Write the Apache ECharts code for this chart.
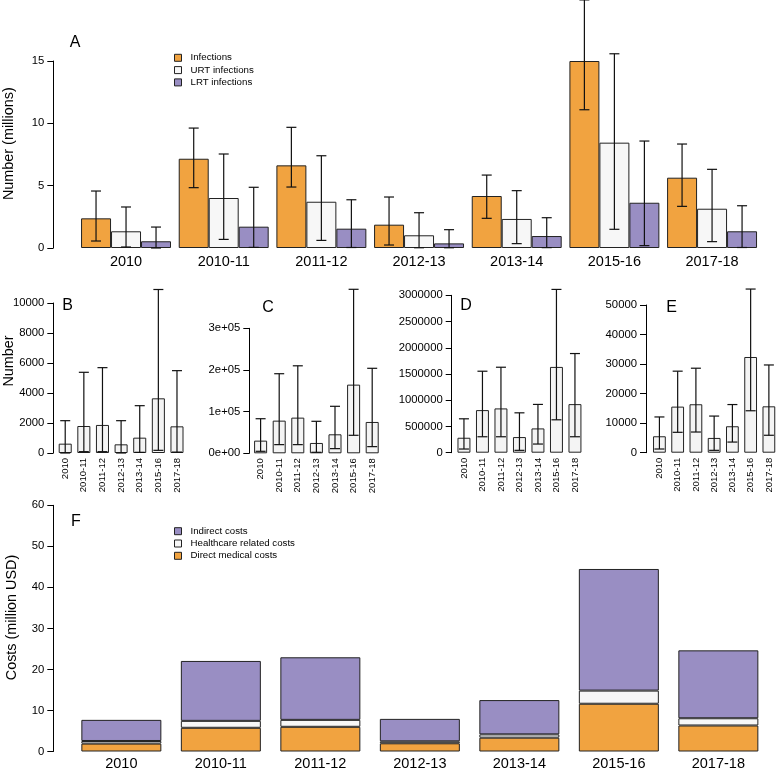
<!DOCTYPE html>
<html><head><meta charset="utf-8">
<script src="https://cdn.jsdelivr.net/npm/echarts@6/dist/echarts.min.js"></script>
<style>html,body{margin:0;padding:0;background:#fff}#c{width:778px;height:771px}</style>
</head><body><div id="c"></div>
<script>
// ---------- data ----------
const seasons = ['2010','2010-11','2011-12','2012-13','2013-14','2015-16','2017-18'];
// Panel A (millions)
const infMean = [2.38, 7.16, 6.63, 1.87, 4.17, 15.0, 5.64];
const infLow  = [0.56, 4.84, 4.89, 0.24, 2.38, 11.09, 3.34];
const infHigh = [4.57, 9.62, 9.68, 4.09, 5.85, 19.9, 8.34];
const urtMean = [1.34, 4.01, 3.71, 1.02, 2.33, 8.45, 3.15];
const urtLow  = [0.08, 0.69, 0.61, 0.02, 0.35, 1.50, 0.51];
const urtHigh = [3.29, 7.54, 7.40, 2.83, 4.60, 15.58, 6.31];
const lrtMean = [0.54, 1.71, 1.55, 0.37, 0.96, 3.63, 1.34];
const lrtLow  = [0.0, 0.05, 0.04, 0.02, 0.03, 0.19, 0.04];
const lrtHigh = [1.68, 4.87, 3.87, 1.47, 2.43, 8.58, 3.39];
// Panel B
const bMean = [622, 1800, 1870, 578, 1022, 3645, 1778];
const bLow  = [0, 90, 90, 0, 45, 178, 60];
const bHigh = [2155, 5380, 5690, 2155, 3155, 10900, 5490];
// Panel C
const cMean = [30400, 78400, 85600, 24800, 45600, 164800, 75200];
const cLow  = [4800, 20800, 20800, 2400, 11200, 43200, 16000];
const cHigh = [83000, 191000, 210000, 76800, 112800, 393600, 204000];
// Panel D
const dMean = [285000, 812000, 844000, 298000, 463000, 1635000, 926000];
const dLow  = [70000, 304000, 304000, 45000, 165000, 627000, 304000];
const dHigh = [646000, 1553000, 1629000, 760000, 920000, 3112000, 1890000];
// Panel E
const eMean = [5560, 15600, 16400, 5000, 8950, 32400, 15700];
const eLow  = [1250, 6900, 7000, 800, 3600, 14200, 5900];
const eHigh = [12100, 27600, 28600, 12400, 16300, 55400, 29700];
// Panel F (million USD)
const directCosts     = [1.93, 5.78, 6.02, 2.00, 3.37, 11.64, 6.34];
const healthcareCosts = [0.63, 1.69, 1.69, 0.48, 0.80, 3.20, 1.76];
const indirectCosts   = [5.15, 14.60, 15.25, 5.47, 8.36, 29.64, 16.55];

// ---------- style ----------
const FONT = 'Liberation Sans, Arial, Helvetica, sans-serif';
const INK = '#222';
const ORANGE = '#f1a340', WHITE = '#f7f7f7', PURPLE = '#998ec3', GREY = '#f4f4f4';

function plain(v) { return String(v); }
function yAx(gi, min, max, interval, offset, fmt) {
  return {type:'value', gridIndex:gi, min, max, interval, offset,
    axisLine:{show:true, lineStyle:{color:'#000', width:1}},
    axisTick:{show:true, length:6, lineStyle:{color:'#000', width:1}},
    axisLabel:{color:'#000', fontSize:11.3, fontFamily:FONT, margin:9, formatter: fmt || plain},
    splitLine:{show:false}};
}
function xAx(gi, fontSize, margin, rotate) {
  return {type:'category', gridIndex:gi, data:seasons,
    axisLine:{show:false}, axisTick:{show:false},
    axisLabel:{color:'#000', fontSize, fontFamily:FONT, margin, rotate, interval:0}};
}
function errSeries(gi, low, high, n, pos, frac, cap) {
  return {type:'custom', xAxisIndex:gi, yAxisIndex:gi, silent:true, z:5, clip:false,
    data: low.map((l,i)=>[i, l, high[i]]),
    encode:{x:0, y:[1,2]},
    renderItem(params, api) {
      const band = api.size([1,0])[0];
      const w = band*frac/n;
      const t = api.coord([api.value(0), api.value(2)]);
      const b = api.coord([api.value(0), api.value(1)]);
      const x = t[0] + (pos - (n-1)/2)*w;
      const h = cap/2;
      const st = {stroke:'#111', lineWidth:1.2};
      return {type:'group', children:[
        {type:'line', shape:{x1:x, y1:t[1], x2:x, y2:b[1]}, style:st},
        {type:'line', shape:{x1:x-h, y1:t[1], x2:x+h, y2:t[1]}, style:st},
        {type:'line', shape:{x1:x-h, y1:b[1], x2:x+h, y2:b[1]}, style:st}
      ]};
    }};
}
function barS(gi, name, data, color, width, extra) {
  return Object.assign({type:'bar', name, xAxisIndex:gi, yAxisIndex:gi, data,
    barWidth:width, barGap:'0%', silent:true,
    itemStyle:{color, borderColor:INK, borderWidth:1}}, extra||{});
}
function sci(v) {
  if (v === 0) return '0e+00';
  return v.toExponential().replace(/e\+(\d)$/, 'e+0$1');
}
function txt(x, y, text, size, rot) {
  return {type:'text', x, y, rotation: rot||0, silent:true,
    style:{text, fill:'#000', font: size+'px '+FONT, textAlign:'center', textVerticalAlign:'middle'}};
}
const legBase = {orient:'vertical', left:174, padding:0, itemWidth:7, itemHeight:7, itemGap:2.3,
  icon:'rect', selectedMode:false, itemStyle:{borderColor:INK, borderWidth:1},
  textStyle:{fontSize:9.7, fontFamily:FONT, color:'#000', padding:[0,0,0,4]}};

const chart = echarts.init(document.getElementById('c'), null, {renderer:'canvas'});
chart.setOption({
  backgroundColor:'#fff',
  animation:false,
  grid:[
    {left:77.2, width:683.7, top:61, height:187},   // A
    {left:55.9, width:130.4, top:303, height:150},  // B
    {left:251.3, width:130.2, top:328.3, height:125}, // C
    {left:454.7, width:129.5, top:295.3, height:157.4}, // D
    {left:650.3, width:130.9, top:305, height:147.7}, // E
    {left:71.6, width:696.5, top:505.3, height:249}  // F
  ],
  xAxis:[
    xAx(0, 14.5, 6, 0),
    xAx(1, 9.5, 5, 90), xAx(2, 9.5, 5, 90), xAx(3, 9.5, 5, 90), xAx(4, 9.5, 5, 90),
    xAx(5, 14.5, 4.5, 0)
  ],
  yAxis:[
    yAx(0, 0, 15, 5, 23.9),
    yAx(1, 0, 10000, 2000, 2.6),
    yAx(2, 0, 300000, 100000, 2.0, sci),
    yAx(3, 0, 3000000, 500000, 3.0),
    yAx(4, 0, 50000, 10000, 4.3),
    yAx(5, 0, 60, 10, 18.3)
  ],
  legend:[
    Object.assign({}, legBase, {top:52.8, data:['Infections','URT infections','LRT infections']}),
    Object.assign({}, legBase, {top:526.2, data:['Indirect costs','Healthcare related costs','Direct medical costs']})
  ],
  series:[
    barS(0, 'Infections', infMean, ORANGE, '30.7%'),
    barS(0, 'URT infections', urtMean, WHITE, '30.7%'),
    barS(0, 'LRT infections', lrtMean, PURPLE, '30.7%'),
    errSeries(0, infLow, infHigh, 3, 0, 90/97.67, 10),
    errSeries(0, urtLow, urtHigh, 3, 1, 90/97.67, 10),
    errSeries(0, lrtLow, lrtHigh, 3, 2, 90/97.67, 10),
    barS(1, 'B', bMean, GREY, '70%'), errSeries(1, bLow, bHigh, 1, 0, 0.7, 10),
    barS(2, 'C', cMean, GREY, '70%'), errSeries(2, cLow, cHigh, 1, 0, 0.7, 10),
    barS(3, 'D', dMean, GREY, '70%'), errSeries(3, dLow, dHigh, 1, 0, 0.7, 10),
    barS(4, 'E', eMean, GREY, '70%'), errSeries(4, eLow, eHigh, 1, 0, 0.7, 10),
    barS(5, 'Direct medical costs', directCosts, ORANGE, '80.4%', {stack:'cost'}),
    barS(5, 'Healthcare related costs', healthcareCosts, WHITE, '80.4%', {stack:'cost'}),
    barS(5, 'Indirect costs', indirectCosts, PURPLE, '80.4%', {stack:'cost'})
  ],
  graphic:[
    txt(75, 42.5, 'A', 16), txt(67.5, 306, 'B', 16), txt(268, 307.5, 'C', 16),
    txt(466, 306, 'D', 16), txt(671.7, 307.5, 'E', 16), txt(76, 522, 'F', 16),
    txt(9.5, 143.7, 'Number (millions)', 14.4, Math.PI/2),
    txt(9.5, 361, 'Number', 14.4, Math.PI/2),
    txt(11.7, 617.5, 'Costs (million USD)', 14.4, Math.PI/2)
  ]
});
</script></body></html>
